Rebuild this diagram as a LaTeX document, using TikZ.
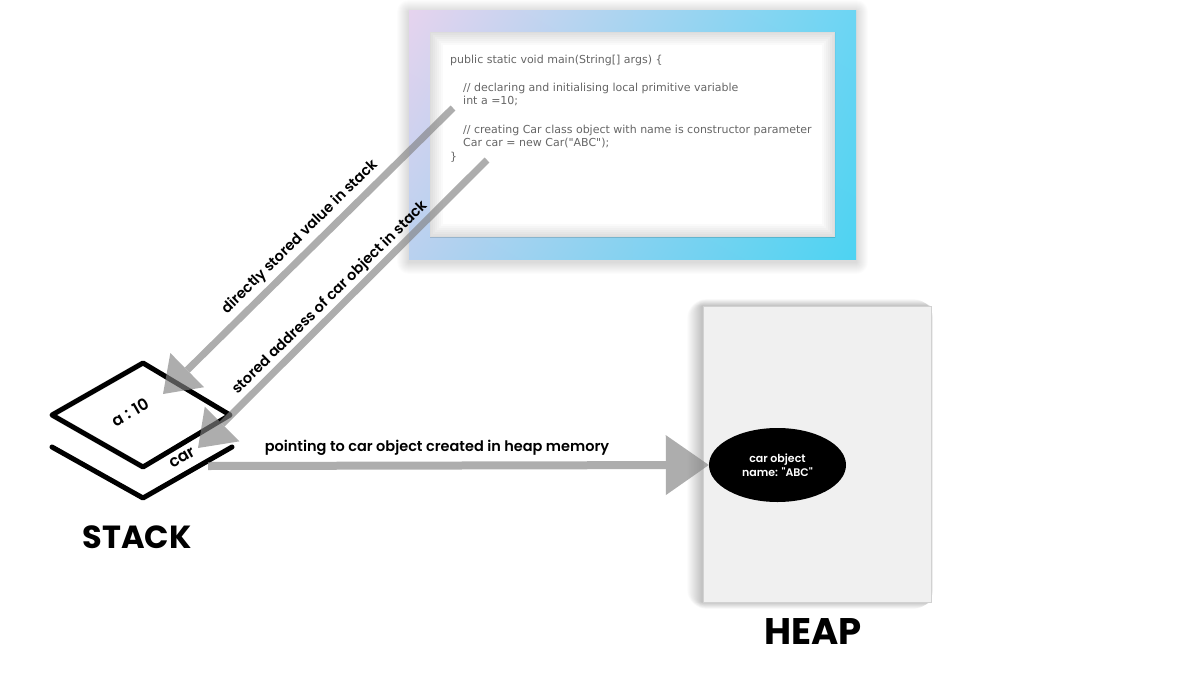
\documentclass[tikz,border=0pt]{standalone}
\usepackage{fontspec}
\setmainfont{Poppins}
\newfontfamily\lblfont{Poppins}[UprightFont=* Medium, BoldFont=* SemiBold]
\newfontfamily\codefont{DejaVu Sans}
\usetikzlibrary{arrows.meta,shapes.geometric,shadings}
\definecolor{arrowgray}{RGB}{130,130,130}
\definecolor{gUL}{HTML}{E6D3EE}
\definecolor{gUR}{HTML}{6CD5F3}
\definecolor{gLL}{HTML}{B9D1EF}
\definecolor{gLR}{HTML}{4DD3F2}
\begin{document}
\begin{tikzpicture}[x=1pt,y=-1pt,
  codeline/.style={anchor=west, font=\codefont\fontsize{11}{13}\selectfont, text=black!60, inner sep=0},
  lbl/.style={font=\lblfont\bfseries\fontsize{14.5}{16}\selectfont, inner sep=0},
  stacklbl/.style={font=\lblfont\bfseries\fontsize{16}{18}\selectfont, inner sep=0, rotate=30},
  title/.style={font=\bfseries\fontsize{#1}{#1}\selectfont, inner sep=0},
  bigarrow/.style={draw=arrowgray, fill=arrowgray, line width=7pt},
  stackline/.style={line width=5pt, line join=round, line cap=round},
  softshadow/.style={fill=black, opacity=#1},
]
\useasboundingbox (0,0) rectangle (1200,675);
\fill[white] (0,0) rectangle (1200,675);

% code frame shadow
\foreach \i in {1,...,12}
  \fill[softshadow=0.012, rounded corners=\i pt] (409-\i,12-\i) rectangle (856+\i,262+\i);
\shade[upper left=gUL, upper right=gUR, lower left=gLL, lower right=gLR] (409,10) rectangle (856,259);
\fill[white] (430,32) rectangle (835,237);
\begin{scope}
  \clip (430,32) rectangle (835,237);
  \foreach \w in {2,6,10,14,18,22,26}
    \draw[black, opacity=0.018, line width=\w pt] (430,32) rectangle (835,237);
\end{scope}

\node[codeline] (c1) at (450,60) {public static void main(String[] args) \{};
\node[codeline] (c2) at (463,88) {// declaring and initialising local primitive variable};
\node[codeline] (c3) at (463,101) {int a =10;};
\node[codeline] (c4) at (463,130) {// creating Car class object with name is constructor parameter};
\node[codeline] (c5) at (463,143) {Car car = new Car("ABC");};
\node[codeline] (c6) at (450,157) {\}};

% heap
\foreach \i in {1,...,20}
  \fill[softshadow=0.011, rounded corners=\i pt] (702-0.75*\i,306-0.35*\i) rectangle (931+0.1*\i,602+0.35*\i);
\node[draw=black!18, fill=black!6, minimum width=228pt, minimum height=296pt] (heap) at (817,454) {};
\node[ellipse, fill=black, minimum width=137pt, minimum height=74pt, text=white, align=center,
      inner sep=0, font=\lblfont\bfseries\fontsize{11}{13.5}\selectfont] (obj) at (777.5,465) {car object\\name: "ABC"};
\node[title=37] (heapT) at (813,632) {HEAP};

% stack
\draw[stackline] (52,415) -- (143,363) -- (230,415) -- (143,467) -- cycle;
\draw[stackline] (52,447) -- (143,498) -- (232,447);
\node[stacklbl] (aval) at (130,412) {a : 10};
\node[stacklbl] (carl) at (182,458) {car};
\node[title=32] (stackT) at (137,537) {STACK};

% connectors
\coordinate (s1) at (453,108);
\coordinate (e1) at (163,394);
\coordinate (s2) at (487,160);
\coordinate (e2) at (198,448);
\coordinate (s3) at (208,466);
\begin{scope}[transparency group, opacity=0.65]
\draw[bigarrow, -{Triangle[length=34pt,width=48pt,line width=0pt]}] (s1) -- (e1);
\end{scope}
\begin{scope}[transparency group, opacity=0.65]
\draw[bigarrow, -{Triangle[length=34pt,width=49pt,line width=0pt]}] (s2) -- (e2);
\end{scope}
\begin{scope}[transparency group, opacity=0.65]
\draw[bigarrow, line width=8pt, -{Triangle[length=43pt,width=60pt,line width=0pt]}] (s3) -- (obj.west);
\end{scope}

\node[lbl, rotate=44.6] (l1) at (300,237) {directly stored value in stack};
\node[lbl, rotate=44.7] (l2) at (330,298) {stored address of car object in stack};
\node[lbl] (l3) at (437,448) {pointing to car object created in heap memory};
\end{tikzpicture}
\end{document}
